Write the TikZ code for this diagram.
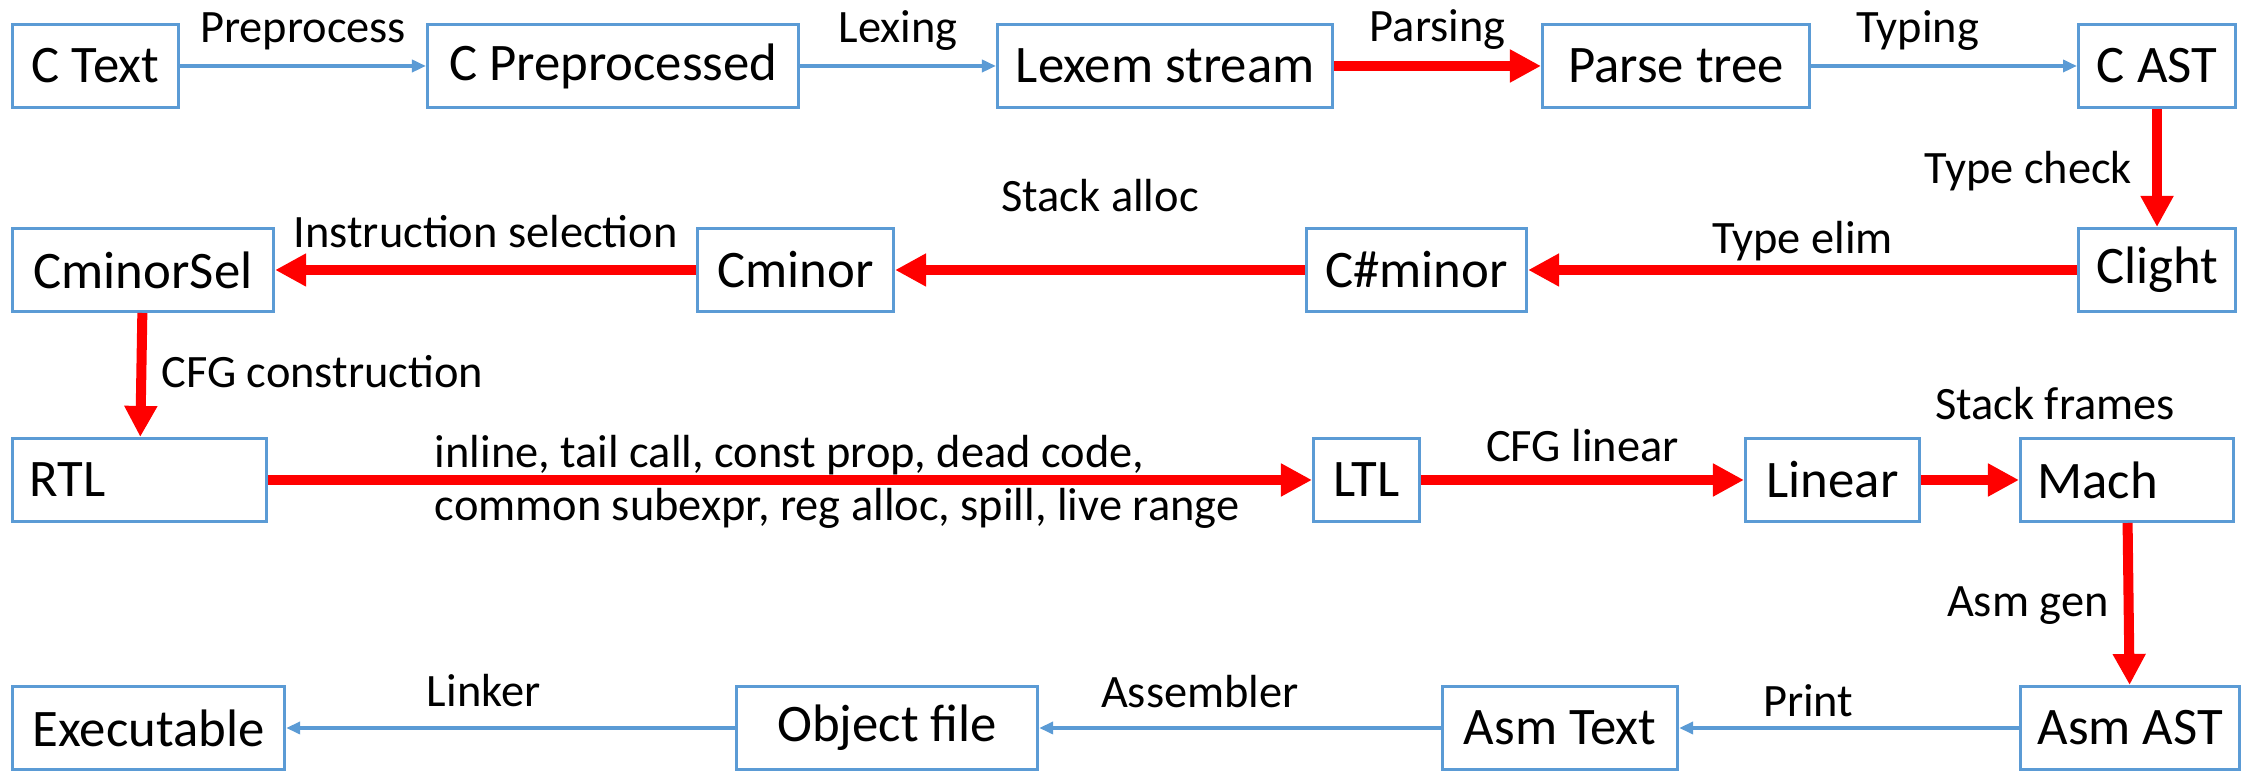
\documentclass[tikz,border=0pt]{standalone}
\usepackage{fontspec}
\setmainfont{Carlito}
\usetikzlibrary{arrows.meta}
\definecolor{boxblue}{RGB}{91,155,213}
\definecolor{passred}{RGB}{255,0,0}
\tikzset{
	stage/.style={draw=boxblue, line width=0.85pt, anchor=west, minimum height=0.83cm, inner xsep=0.17cm, inner ysep=0pt, font=\fontsize{15}{18}\selectfont},
	lightflow/.style={draw=boxblue, line width=1.15pt, -{Triangle[length=0.14cm,width=0.12cm]}},
	heavyflow/.style={draw=passred, line width=2.85pt, -{Triangle[length=0.31cm,width=0.31cm]}},
	lbl/.style={inner sep=0pt, text height=0.3cm, text depth=0.09cm, font=\fontsize{13.2}{15}\selectfont},
}
\begin{document}
\begin{tikzpicture}[x=0.01cm, y=-0.01cm]
	\useasboundingbox (0,0) rectangle (2241,771);
	\node[stage, minimum width=1.66cm] (ctext) at (11,66) {C Text};
	\node[stage, minimum width=3.71cm] (cpre) at (426,66) {C Preprocessed};
	\node[stage, minimum width=3.35cm] (lexem) at (996,66) {Lexem stream};
	\node[stage, minimum width=2.67cm] (parse) at (1541,66) {Parse tree};
	\node[stage, minimum width=1.57cm] (cast) at (2077,66) {C AST};
	\node[stage, minimum width=2.61cm] (cminorsel) at (11,270) {CminorSel};
	\node[stage, minimum width=1.96cm] (cminor) at (696,270) {Cminor};
	\node[stage, minimum width=2.20cm] (csharp) at (1305,270) {C\#minor};
	\node[stage, minimum width=1.57cm] (clight) at (2077,270) {Clight};
	\node[stage, text width=2.2cm, align=left] (rtl) at (11,480) {RTL};
	\node[stage, minimum width=1.06cm] (ltl) at (1312,480) {LTL};
	\node[stage, minimum width=1.74cm] (linear) at (1744,480) {Linear};
	\node[stage, text width=1.79cm, align=left] (mach) at (2019,480) {Mach};
	\node[stage, minimum width=2.72cm] (exec) at (11,728) {Executable};
	\node[stage, minimum width=3.01cm] (objfile) at (735,728) {Object file};
	\node[stage, minimum width=2.35cm] (asmtext) at (1441,728) {Asm Text};
	\node[stage, minimum width=2.15cm] (asmast) at (2019,728) {Asm AST};

	\draw[lightflow] (ctext) -- node[lbl, above=0.12cm] (preprocess) {Preprocess} (cpre);
	\draw[lightflow] (cpre) -- node[lbl, above=0.12cm] (lexing) {Lexing} (lexem);
	\draw[heavyflow] (lexem) -- node[lbl, above=0.1cm] (parsing) {Parsing} (parse);
	\draw[lightflow] (parse) -- node[lbl, above=0.12cm, pos=0.4] (typing) {Typing} (cast);
	\draw[heavyflow] (cast) -- node[lbl, left=0.2cm, yshift=-0.05cm] (typecheck) {Type check} (clight);
	\draw[heavyflow] (clight) -- node[lbl, above=0.02cm] (typeelim) {Type elim} (csharp);
	\draw[heavyflow] (csharp) -- node[lbl, above=0.44cm] (stackalloc) {Stack alloc} (cminor);
	\draw[heavyflow] (cminor) -- node[lbl, above=0.08cm] (isel) {Instruction selection} (cminorsel);
	\draw[heavyflow] (cminorsel) -- node[lbl, right=0.15cm, yshift=-0.02cm] (cfgcons) {CFG construction} (rtl);
	\draw[heavyflow] (rtl) -- node[pos=0.545, align=left, inner sep=0pt, font=\fontsize{13.2}{15}\selectfont, yshift=-0.02cm] (optim) {inline, tail call, const prop, dead code,\\common subexpr, reg alloc, spill, live range} (ltl);
	\draw[heavyflow] (ltl) -- node[lbl, above=0.04cm] (cfglin) {CFG linear} (linear);
	\draw[heavyflow] (linear) -- node[lbl, pos=0, anchor=base west, xshift=0.09cm, yshift=0.6cm] (stackfr) {Stack frames} (mach);
	\draw[heavyflow] (mach) -- node[lbl, left=0.15cm, yshift=-0.02cm] (asmgen) {Asm gen} (asmast);
	\draw[lightflow] (asmast) -- node[lbl, above=0.0cm, pos=0.62] (print) {Print} (asmtext);
	\draw[lightflow] (asmtext) -- node[lbl, above=0.09cm, pos=0.6] (assembler) {Assembler} (objfile);
	\draw[lightflow] (objfile) -- node[lbl, above=0.1cm, pos=0.56] (linker) {Linker} (exec);
\end{tikzpicture}
\end{document}
